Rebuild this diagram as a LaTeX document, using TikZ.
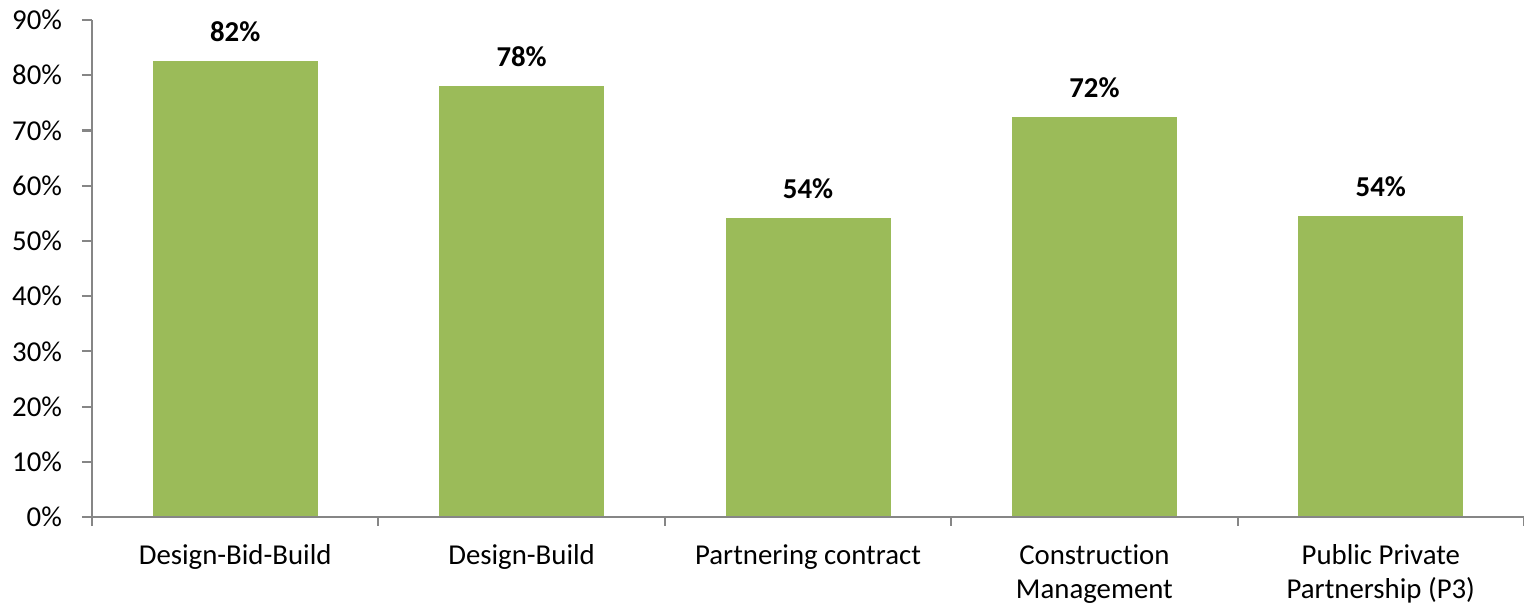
\documentclass[tikz,border=0pt]{standalone}
\usepackage{fontspec}
\setmainfont{Carlito}[Ligatures=NoCommon]
\definecolor{bargreen}{HTML}{9BBB59}
\definecolor{axisgray}{HTML}{868686}
\tikzset{
  axisline/.style={draw=axisgray, line width=1.6pt},
  bar/.style={fill=bargreen},
  val/.style={font=\fontsize{21.6}{25.5}\selectfont\bfseries, inner sep=0pt, anchor=base},
  ylab/.style={font=\fontsize{21.6}{25.5}\selectfont, inner sep=0pt, anchor=east},
  cat/.style={font=\fontsize{21.6}{25.5}\selectfont, inner sep=0pt, anchor=north, align=center}
}
\begin{document}
\begin{tikzpicture}[x=0.75pt, y=4.1415pt]
\useasboundingbox (-92,-16.12) rectangle (1432,93.63);
% bars
\fill [bar] (60.7,0) rectangle (225.7,82.5);
\fill [bar] (347.1,0) rectangle (512.1,78.0);
\fill [bar] (633.5,0) rectangle (798.5,54.1);
\fill [bar] (919.9,0) rectangle (1084.9,72.4);
\fill [bar] (1206.3,0) rectangle (1371.3,54.5);
% axes
\draw [axisline] (0,-1.63) -- (0,90);
\draw [axisline] (0,0) -- (1432,0);
\foreach \t in {0,10,...,90}
  \draw [axisline] (-10,\t) -- (0,\t) node (y\t) [ylab] at (-29,\t) {\t\%};
\foreach \k in {1,...,5}
  \draw [axisline] (\k*286.4,0) -- (\k*286.4,-1.63);
% values
\node (v1) [val] at (143.2,86.1) {82\%};
\node (v2) [val] at (429.6,81.6) {78\%};
\node (v3) [val] at (716.0,57.7) {54\%};
\node (v4) [val] at (1002.4,76.0) {72\%};
\node (v5) [val] at (1288.8,58.1) {54\%};
% categories
\node (c1) [cat] at (143.2,-5.0) {Design-Bid-Build};
\node (c2) [cat] at (429.6,-5.0) {Design-Build};
\node (c3) [cat] at (716.0,-5.0) {Partnering contract};
\node (c4) [cat] at (1002.4,-5.0) {Construction\\Management};
\node (c5) [cat] at (1288.8,-5.0) {Public Private\\Partnership (P3)};
\end{tikzpicture}
\end{document}
